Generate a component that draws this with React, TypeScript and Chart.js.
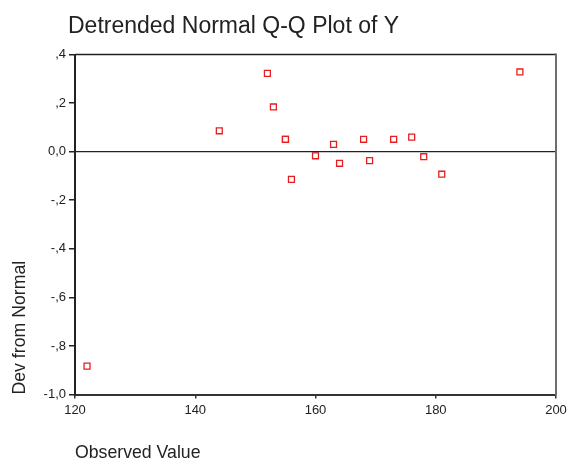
import React, { useEffect, useRef } from "react";
import { Chart, registerables } from "chart.js";

Chart.register(...registerables);

const titleText = "Detrended Normal Q-Q Plot of Y";
const xTitle = "Observed Value";
const yTitle = "Dev from Normal";

const observed = [122, 144, 152, 153, 155, 155, 156, 160, 163, 164, 168, 169, 173, 176, 178, 181, 194];
const devFromNormal = [-0.883, 0.086, 0.322, 0.184, 0.051, 0.051, -0.114, -0.017, 0.03, -0.048, 0.051, -0.037, 0.051, 0.06, -0.021, -0.093, 0.328];

const xTickLabels = ["120", "140", "160", "180", "200"];
const yTickLabels = ["-1,0", "-,8", "-,6", "-,4", "-,2", "0,0", ",2", ",4"];

const FONT = "'Liberation Sans', Arial, sans-serif";

const framePlugin = {
  id: "frame",
  afterDraw(chart: any) {
    const { ctx, chartArea } = chart;
    const { left, right, top, bottom } = chartArea;
    const y0 = chart.scales.y.getPixelForValue(0);
    ctx.save();
    ctx.strokeStyle = "#222";
    ctx.lineWidth = 1.6;
    ctx.beginPath();
    ctx.moveTo(left, top);
    ctx.lineTo(right, top);
    ctx.stroke();
    ctx.lineWidth = 1.4;
    ctx.beginPath();
    ctx.moveTo(left, y0);
    ctx.lineTo(right, y0);
    ctx.stroke();
    ctx.strokeStyle = "#6e6e6e";
    ctx.lineWidth = 2;
    ctx.beginPath();
    ctx.moveTo(right, top - 1);
    ctx.lineTo(right, bottom + 1);
    ctx.stroke();
    ctx.fillStyle = "#222";
    ctx.font = `23px ${FONT}`;
    ctx.textAlign = "left";
    ctx.textBaseline = "alphabetic";
    ctx.fillText(titleText, 68, 33);
    ctx.restore();
  },
};

export default function App() {
  const ref = useRef<HTMLCanvasElement | null>(null);
  useEffect(() => {
    document.body.style.margin = "0";
    const canvas = ref.current!;
    const chart = new Chart(canvas, {
      type: "scatter",
      data: {
        datasets: [
          {
            data: observed.map((x, i) => ({ x, y: devFromNormal[i] })),
            pointStyle: "rect",
            pointRadius: 4.2,
            pointHoverRadius: 4.2,
            borderColor: "rgb(232,30,30)",
            backgroundColor: "#fff",
            borderWidth: 1.3,
          },
        ],
      },
      options: {
        responsive: false,
        animation: false,
        devicePixelRatio: 1,
        layout: { padding: { top: 54.5, right: 13, left: 0, bottom: -3 } },
        plugins: {
          legend: { display: false },
          tooltip: { enabled: false },
          title: { display: false },
        },
        scales: {
          x: {
            type: "linear",
            min: 120,
            max: 200,
            afterFit: (s: any) => {
              s.height = 69.5;
              s.paddingLeft = 0;
              s.paddingRight = 0;
            },
            ticks: {
              stepSize: 20,
              color: "#222",
              font: { family: FONT, size: 13 },
              padding: 4,
              maxRotation: 0,
              callback: (_v: any, i: number) => xTickLabels[i],
            },
            grid: {
              drawOnChartArea: false,
              drawTicks: true,
              tickLength: 4,
              color: "#333",
              lineWidth: 1.5,
            },
            border: { display: true, color: "#333", width: 2 },
            title: {
              display: true,
              text: xTitle,
              align: "start",
              color: "#222",
              font: { family: FONT, size: 17.7 },
              padding: { top: 0, bottom: 0 },
            },
          },
          y: {
            type: "linear",
            min: -1,
            max: 0.4,
            afterFit: (s: any) => {
              s.width = 75;
              s.paddingTop = 0;
              s.paddingBottom = 0;
            },
            ticks: {
              stepSize: 0.2,
              color: "#222",
              font: { family: FONT, size: 13 },
              padding: 3,
              callback: (_v: any, i: number) => yTickLabels[i],
            },
            grid: {
              drawOnChartArea: false,
              drawTicks: true,
              tickLength: 6,
              color: "#222",
              lineWidth: 1.5,
            },
            border: { display: true, color: "#222", width: 2 },
            title: {
              display: true,
              text: yTitle,
              align: "start",
              color: "#222",
              font: { family: FONT, size: 17.7 },
              padding: { top: 9.5, bottom: 0 },
            },
          },
        },
      },
      plugins: [framePlugin],
    } as any);
    return () => chart.destroy();
  }, []);
  return <canvas ref={ref} width={569} height={461} style={{ display: "block" }} />;
}
